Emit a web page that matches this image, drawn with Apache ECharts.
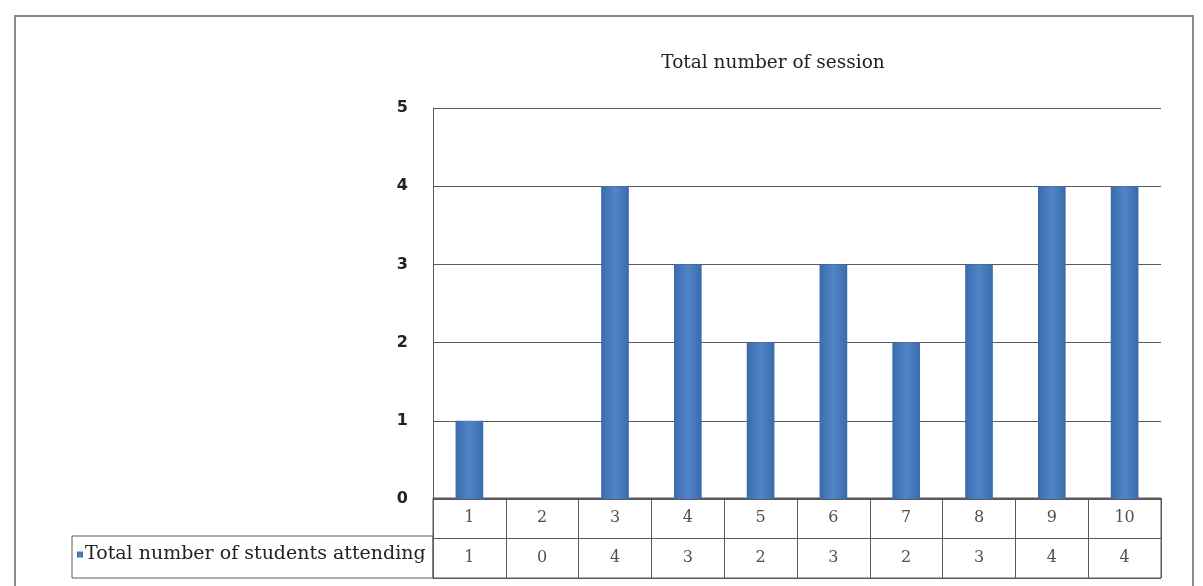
<!DOCTYPE html>
<html>
<head>
<meta charset="utf-8">
<script src="https://cdn.jsdelivr.net/npm/echarts@6/dist/echarts.min.js"></script>
<style>
html,body{margin:0;padding:0;background:#fff;}
#chart{width:1203px;height:586px;}
</style>
</head>
<body>
<div id="chart"></div>
<script>
const titleText = 'Total number of session';
const seriesName = 'Total number of students attending';
const sessions = ['1','2','3','4','5','6','7','8','9','10'];
const students = [1, 0, 4, 3, 2, 3, 2, 3, 4, 4];
const yTicks = [0, 1, 2, 3, 4, 5];

const chart = echarts.init(document.getElementById('chart'), null, {renderer: 'canvas'});
const lineCol = '#5a5a5a';
const serif = '"DejaVu Serif", "Liberation Serif", serif';

const barColor = new echarts.graphic.LinearGradient(0, 0, 1, 0, [
  {offset: 0, color: '#3b6aab'},
  {offset: 0.5, color: '#4f86c9'},
  {offset: 1, color: '#3b6aab'}
]);

const tableCells = [];
sessions.forEach((s, i) => { tableCells.push([i, 1.5, s]); });
students.forEach((v, i) => { tableCells.push([i, 0.5, String(v)]); });

const option = {
  animation: false,
  backgroundColor: '#fff',
  title: {
    text: titleText,
    left: 768,
    top: 49,
    textAlign: 'center',
    textStyle: {fontFamily: serif, fontSize: 18.5, fontWeight: 'normal', color: '#222'}
  },
  legend: {
    left: 77,
    top: 545,
    icon: 'rect',
    itemWidth: 6,
    itemHeight: 6,
    itemGap: 0,
    padding: 0,
    data: [seriesName],
    textStyle: {fontFamily: serif, fontSize: 19, color: '#222', padding: [0, 0, 0, -3]}
  },
  graphic: [{
    type: 'rect',
    shape: {x: 15, y: 16, width: 1178, height: 600},
    style: {fill: 'none', stroke: '#8a8a8a', lineWidth: 2},
    silent: true
  }],
  grid: [
    {left: 433, right: 42, top: 108, bottom: 87},
    {left: 433, right: 42, top: 498, bottom: 8, show: true, borderColor: lineCol, borderWidth: 1},
    {left: 72, right: 770, top: 536, bottom: 8, show: true, borderColor: lineCol, borderWidth: 1}
  ],
  xAxis: [
    {gridIndex: 0, type: 'category', data: sessions, axisLine: {show: false}, axisTick: {show: false}, axisLabel: {show: false}},
    {gridIndex: 1, type: 'category', data: sessions, boundaryGap: true,
      axisLine: {show: false}, axisTick: {show: false}, axisLabel: {show: false},
      splitLine: {show: true, lineStyle: {color: lineCol, width: 1}}},
    {gridIndex: 2, type: 'value', show: false}
  ],
  yAxis: [
    {gridIndex: 0, type: 'value', min: 0, max: 5, interval: 1,
      axisLine: {show: true, lineStyle: {color: lineCol, width: 1}},
      axisTick: {show: false},
      splitLine: {show: true, lineStyle: {color: lineCol, width: 1}},
      axisLabel: {margin: 25, fontFamily: '"DejaVu Sans", sans-serif', fontWeight: 'bold', fontSize: 16, color: '#222',
        formatter: v => yTicks.includes(v) ? String(v) : ''}},
    {gridIndex: 1, type: 'value', min: 0, max: 2, interval: 1,
      axisLine: {show: false}, axisTick: {show: false}, axisLabel: {show: false},
      splitLine: {show: true, lineStyle: {color: lineCol, width: 1}}},
    {gridIndex: 2, type: 'value', show: false}
  ],
  series: [
    {
      name: seriesName,
      type: 'bar',
      xAxisIndex: 0, yAxisIndex: 0,
      data: students,
      barWidth: '38%',
      itemStyle: {color: barColor}
    },
    {
      type: 'scatter',
      xAxisIndex: 1, yAxisIndex: 1,
      data: tableCells,
      symbolSize: 0,
      silent: true,
      label: {
        show: true, position: 'inside',
        formatter: p => p.data[2],
        fontFamily: serif, fontSize: 16, color: '#222'
      }
    }
  ]
};
chart.setOption(option);
</script>
</body>
</html>
